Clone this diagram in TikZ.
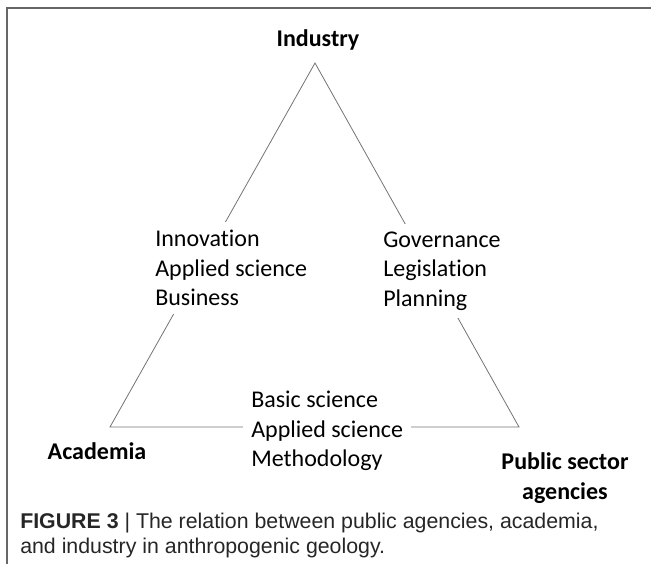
\documentclass[tikz,border=0pt]{standalone}
\usepackage{fontspec}
\setmainfont[Ligatures=NoCommon]{Carlito}
\newfontfamily\capfont{Liberation Sans}
\begin{document}
\begin{tikzpicture}[x=0.75pt,y=-0.75pt,font=\fontsize{18}{22}\selectfont]
\tikzset{
  side/.style={draw=black!55,line width=0.6pt},
  field/.style={fill=white,align=left,inner sep=6pt,anchor=west},
  actor/.style={font=\fontsize{18}{22}\selectfont\bfseries,align=center,inner sep=0pt}
}
\useasboundingbox (0,0) rectangle (651,564);
\draw[black!60,line width=0.8pt] (7,564) -- (7,8) -- (651,8);
\coordinate (apex) at (315,63);
\coordinate (left) at (110,427);
\coordinate (right) at (519,427);
\draw[side] (apex) -- (left) -- (right) -- cycle;
\node[actor] (industry) at (318,40) {Industry};
\node[actor] (academia) at (97,451) {Academia};
\node[actor] (public) at (565,478) {Public sector\\agencies};
\node[field] (innovation) at (147,268) {Innovation\\Applied science\\Business};
\node[field] (governance) at (375,271) {Governance\\Legislation\\Planning};
\node[field] (basic) at (243,431) {Basic science\\Applied science\\Methodology};
\node[anchor=north west,align=left,inner sep=0pt,text=black!85,
  font=\capfont\fontsize{16}{18.75}\selectfont] (caption) at (20,513)
  {\textbf{FIGURE 3} | The relation between public agencies, academia,\\and industry in anthropogenic geology.};
\end{tikzpicture}
\end{document}
